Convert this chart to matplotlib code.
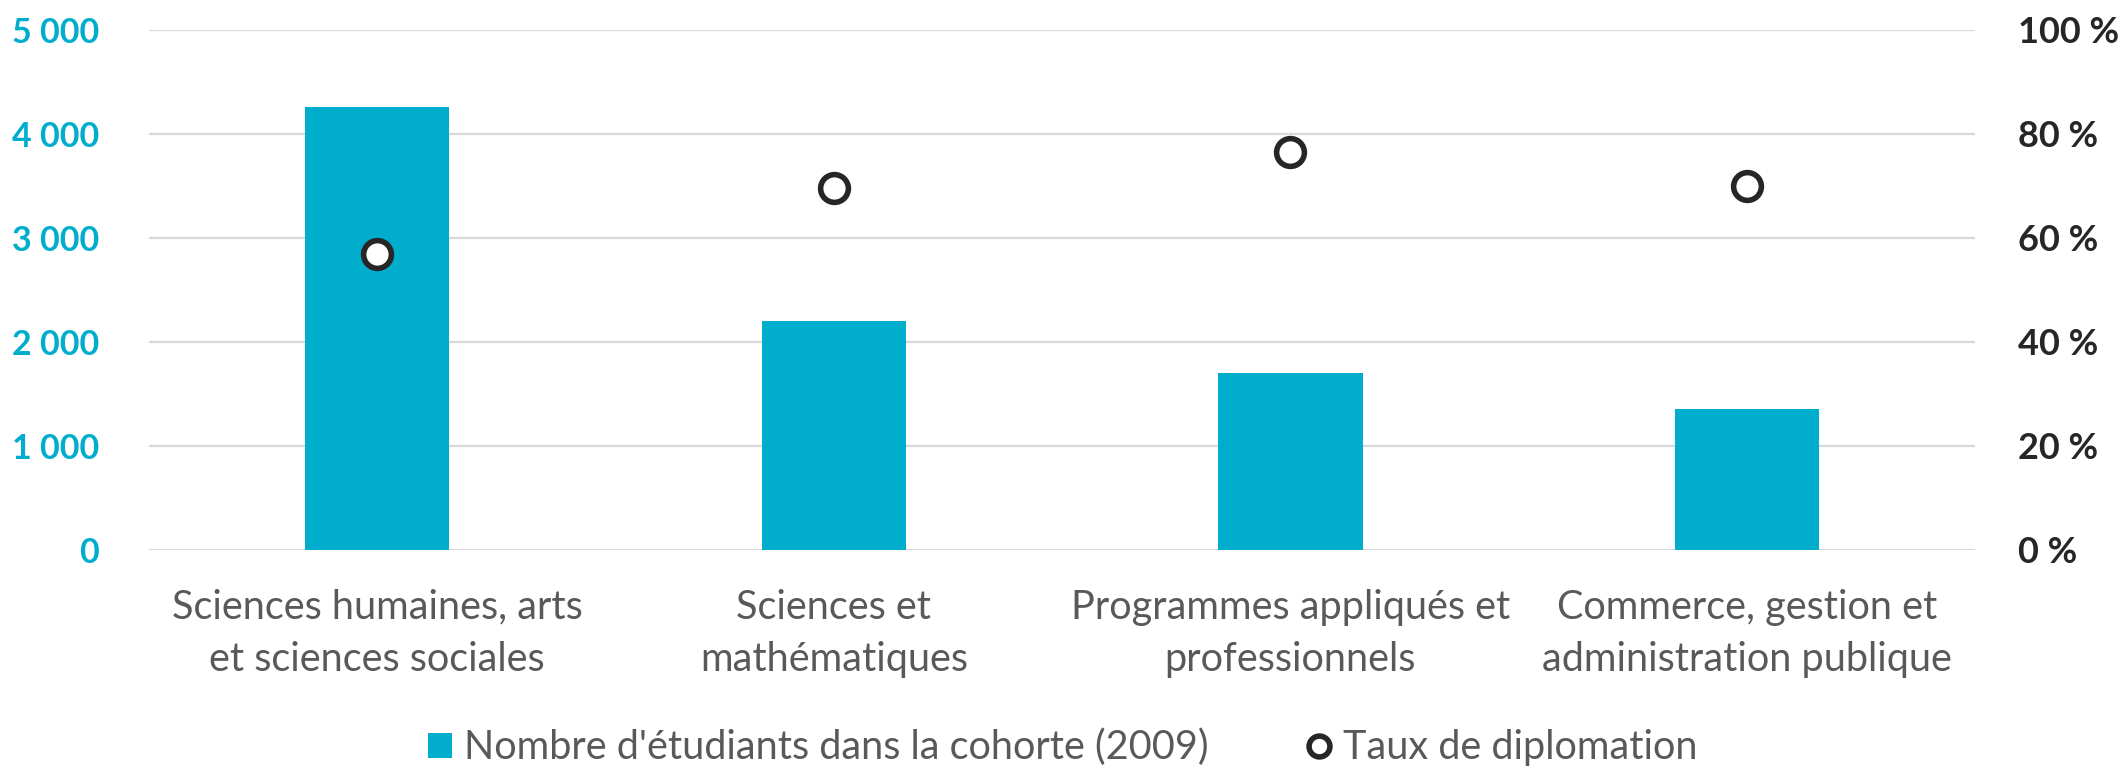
import matplotlib
matplotlib.use("Agg")
import matplotlib.pyplot as plt
from matplotlib.ticker import FuncFormatter
from matplotlib.lines import Line2D
from matplotlib.patches import Patch

# data
categories = ["Sciences humaines, arts\net sciences sociales",
              "Sciences et\nmathématiques",
              "Programmes appliqués et\nprofessionnels",
              "Commerce, gestion et\nadministration publique"]
students = [4260, 2200, 1700, 1350]
grad_rate = [56.8, 69.5, 76.4, 69.9]

teal = "#00ADCD"
dark = "#262626"
grey_txt = "#595959"
grid_col = "#D9D9D9"

plt.rcParams['font.family'] = ['Lato', 'DejaVu Sans']

fig = plt.figure(figsize=(21.26, 7.71), dpi=100)
ax = fig.add_axes([0.0701, 0.287, 0.859, 0.6745])
x = list(range(len(categories)))

ax.bar(x, students, width=0.316, color=teal, zorder=2)
ax.set_ylim(0, 5000)
ax.set_xlim(-0.5, 3.5)
ax.set_yticks(range(0, 5001, 1000))
ax.yaxis.set_major_formatter(FuncFormatter(lambda v, p: f"{int(v):,}".replace(",", " ")))
ax.grid(axis='y', color=grid_col, linewidth=1.6, zorder=0)
ax.set_axisbelow(True)
for s in ax.spines.values():
    s.set_visible(False)
ax.tick_params(axis='y', length=0, pad=36, labelsize=24.5, labelcolor=teal)
for t in ax.get_yticklabels():
    t.set_fontweight('bold')
ax.set_xticks(x)
ax.set_xticklabels(categories, fontsize=28.5, color=grey_txt, linespacing=1.5)
ax.tick_params(axis='x', length=0, pad=28)

ax2 = ax.twinx()
ax2.plot(x, grad_rate, linestyle='none', marker='o', markersize=20,
         markerfacecolor='white', markeredgecolor=dark, markeredgewidth=4, zorder=3)
ax2.set_ylim(0, 100)
ax2.set_yticks(range(0, 101, 20))
ax2.yaxis.set_major_formatter(FuncFormatter(lambda v, p: f"{int(v)} %"))
for s in ax2.spines.values():
    s.set_visible(False)
ax2.tick_params(axis='y', length=0, pad=31, labelsize=26, labelcolor=dark)
for t in ax2.get_yticklabels():
    t.set_fontweight('bold')

handles = [Patch(facecolor=teal, edgecolor='none'),
           Line2D([], [], linestyle='none', marker='o', markersize=15,
                  markerfacecolor='white', markeredgecolor=dark, markeredgewidth=4)]
labels = ["Nombre d'étudiants dans la cohorte (2009)", "Taux de diplomation"]
fig.legend(handles, labels, loc='lower center', bbox_to_anchor=(0.5, -0.04), ncol=2,
           frameon=False, fontsize=28.5, labelcolor=grey_txt, handlelength=0.6,
           handleheight=0.6, handletextpad=0.3, columnspacing=2.5)

fig.savefig("out.png", dpi=100)
